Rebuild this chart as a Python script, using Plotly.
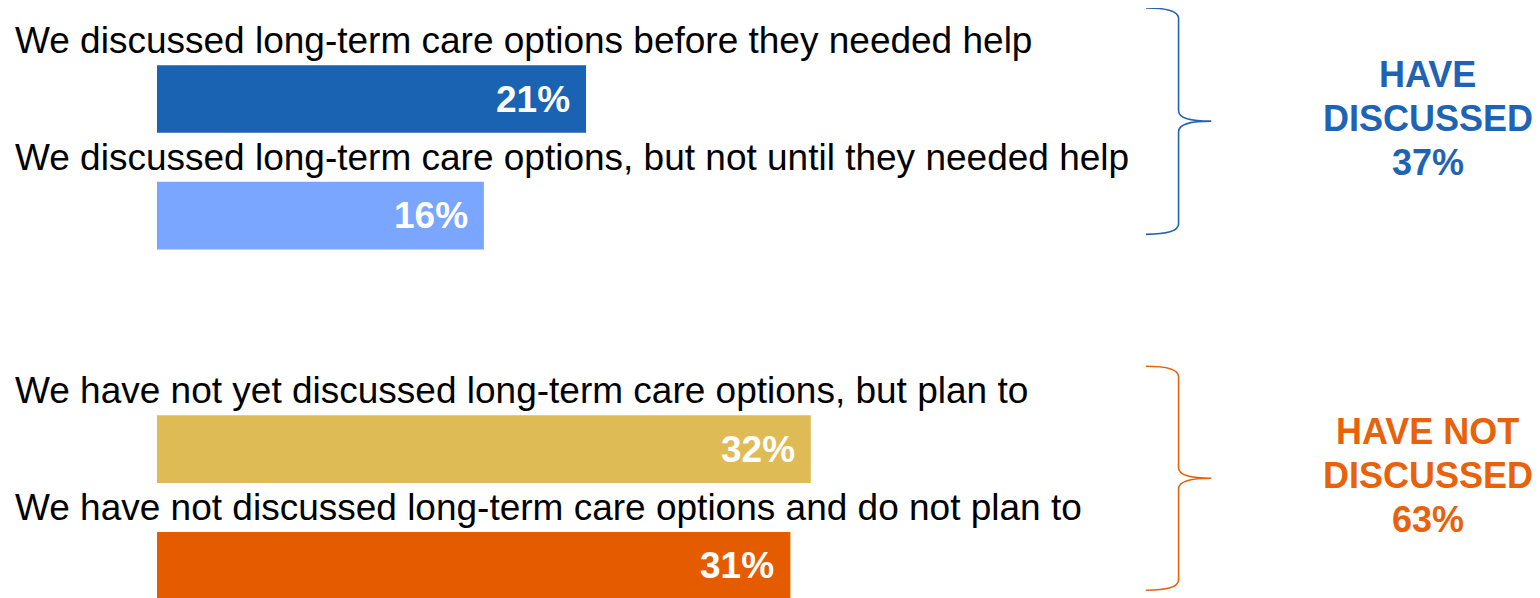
import plotly.graph_objects as go

# 回答カテゴリと割合
labels = [
    "We discussed long-term care options before they needed help",
    "We discussed long-term care options, but not until they needed help",
    "We have not yet discussed long-term care options, but plan to",
    "We have not discussed long-term care options and do not plan to",
]
values = [21, 16, 32, 31]
positions = [0, 1, 3, 4]  # 2 is the gap between groups
bar_colors = ["#1A63B3", "#7AA6FF", "#DFBB55", "#E55C00"]

group_lines = [["HAVE", "DISCUSSED"], ["HAVE NOT", "DISCUSSED"]]
group_totals = [37, 63]
group_members = [[0, 1], [2, 3]]  # indices into labels
group_colors = ["#1F63B5", "#E8620A"]

FONT = "Liberation Sans, Arial, sans-serif"

fig = go.Figure(go.Bar(
    x=values,
    y=positions,
    orientation="h",
    width=0.58,
    marker=dict(color=bar_colors, line=dict(width=0)),
    hoverinfo="skip",
))

# バー内の数値ラベル
for v, pos in zip(values, positions):
    fig.add_annotation(
        x=v, y=pos, xref="x", yref="y", xshift=-14,
        text=f"<b>{v}%</b>", showarrow=False, xanchor="right", yanchor="middle",
        font=dict(family=FONT, size=37, color="white"),
    )

# 各バーの上の説明文
for lab, pos in zip(labels, positions):
    fig.add_annotation(
        x=-7.05, y=pos - 0.5, xref="x", yref="y",
        text=lab, showarrow=False, xanchor="left", yanchor="middle",
        font=dict(family=FONT, size=37, color="black"),
    )

# 中括弧とグループ合計
x0, xv, xt = 48.4, 50.0, 51.6
brace_pad = [(-0.78, 0.16), (-0.71, 0.21)]  # 括弧の上下の余白
for lines, tot, mem, col, pad in zip(group_lines, group_totals, group_members,
                                     group_colors, brace_pad):
    top = positions[mem[0]] + pad[0]
    bot = positions[mem[-1]] + pad[1]
    mid = (top + bot) / 2
    r = 0.09
    path = (f"M {x0},{top} Q {xv},{top} {xv},{top + r} "
            f"L {xv},{mid - r} Q {xv},{mid} {xt},{mid} "
            f"Q {xv},{mid} {xv},{mid + r} "
            f"L {xv},{bot - r} Q {xv},{bot} {x0},{bot}")
    fig.add_shape(type="path", path=path, xref="x", yref="y",
                  line=dict(color=col, width=1.6))
    for k, txt in enumerate(lines + [f"{tot}%"]):
        fig.add_annotation(
            x=62.2, y=mid, xref="x", yref="y", yshift=47 - 44 * k,
            text=f"<b>{txt}</b>", showarrow=False,
            xanchor="center", yanchor="middle",
            font=dict(family=FONT, size=36, color=col),
        )

fig.update_xaxes(range=[-7.293, 67.69], visible=False, fixedrange=True)
fig.update_yaxes(range=[4.276, -0.7798], visible=False, fixedrange=True)
fig.update_layout(
    width=1532, height=590,
    margin=dict(l=0, r=0, t=0, b=0),
    paper_bgcolor="white", plot_bgcolor="white",
    showlegend=False,
)

fig.write_html("out.html")
